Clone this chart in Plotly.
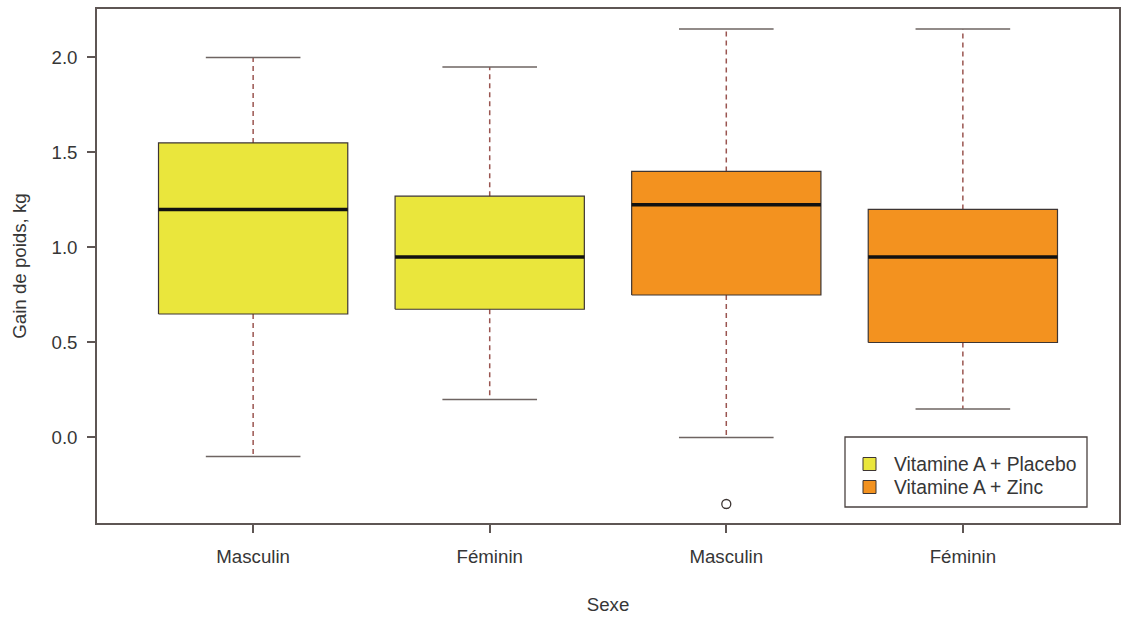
import plotly.graph_objects as go

# ---- data ----
sexes = ["Masculin", "Féminin", "Masculin", "Féminin"]
groups = ["Vitamine A + Placebo", "Vitamine A + Placebo", "Vitamine A + Zinc", "Vitamine A + Zinc"]
lower_whisker = [-0.10, 0.20, 0.00, 0.15]
q1 = [0.65, 0.675, 0.75, 0.50]
median = [1.20, 0.95, 1.225, 0.95]
q3 = [1.55, 1.27, 1.40, 1.20]
upper_whisker = [2.00, 1.95, 2.15, 2.15]
outlier_group = [3]          # 1-based box index
outlier_value = [-0.35]
y_ticks = [0.0, 0.5, 1.0, 1.5, 2.0]
y_ticklabels = ["0.0", "0.5", "1.0", "1.5", "2.0"]
legend_groups = ["Vitamine A + Placebo", "Vitamine A + Zinc"]

colors = {"Vitamine A + Placebo": "#EAE63C", "Vitamine A + Zinc": "#F3921F"}
FONT = "Liberation Sans, Arial, Helvetica, sans-serif"
TXT = "#363636"
FRAME = "#5e5654"
box_half = 0.4
cap_half = 0.2

# page geometry (body margin removed by post_script)
W, H = 1122, 617
ML, MR, MT, MB = 97, 3, 9, 94
PW, PH = W - ML - MR, H - MT - MB
OFF = 0


def px_x(x):  # page pixel -> paper x
    return (x - OFF - ML) / PW


def px_y(y):  # page pixel -> paper y
    return 1 - (y - OFF - MT) / PH


fig = go.Figure()
positions = list(range(1, len(sexes) + 1))

for i, pos in enumerate(positions):
    col = colors[groups[i]]
    for a, b in [(q3[i], upper_whisker[i]), (q1[i], lower_whisker[i])]:
        fig.add_trace(go.Scatter(x=[pos, pos], y=[a, b], mode="lines",
                                 line=dict(color="#9a5550", width=1.5, dash="5px,4px"),
                                 showlegend=False, hoverinfo="skip"))
    for v in [upper_whisker[i], lower_whisker[i]]:
        fig.add_trace(go.Scatter(x=[pos - cap_half, pos + cap_half], y=[v, v], mode="lines",
                                 line=dict(color="#6e6462", width=1.5),
                                 showlegend=False, hoverinfo="skip"))
    fig.add_trace(go.Scatter(
        x=[pos - box_half, pos + box_half, pos + box_half, pos - box_half, pos - box_half],
        y=[q1[i], q1[i], q3[i], q3[i], q1[i]],
        mode="lines", fill="toself", fillcolor=col,
        line=dict(color="#3d3533", width=1.2),
        showlegend=False, hoverinfo="skip"))
    fig.add_trace(go.Scatter(x=[pos - box_half, pos + box_half], y=[median[i], median[i]],
                             mode="lines", line=dict(color="#111111", width=3.5),
                             showlegend=False, hoverinfo="skip"))

fig.add_trace(go.Scatter(x=outlier_group, y=outlier_value, mode="markers",
                         marker=dict(symbol="circle-open", size=9, color="#3d3533",
                                     line=dict(width=1.3)),
                         showlegend=False, hoverinfo="skip"))

# custom legend (box, keys, labels) in paper coordinates
shapes = [dict(type="rect", xref="paper", yref="paper",
               x0=px_x(845), x1=px_x(1087), y0=px_y(437), y1=px_y(507),
               line=dict(color="#4a4240", width=1.3), fillcolor="white", layer="above")]
annotations = []
for k, g in enumerate(legend_groups):
    cy = 464 + 23 * k
    shapes.append(dict(type="rect", xref="paper", yref="paper",
                       x0=px_x(863), x1=px_x(876), y0=px_y(cy - 6.5), y1=px_y(cy + 6.5),
                       line=dict(color="#3d3533", width=1), fillcolor=colors[g], layer="above"))
    annotations.append(dict(xref="paper", yref="paper", x=px_x(892), y=px_y(cy),
                            xanchor="left", yanchor="middle", showarrow=False, text=g,
                            font=dict(size=19.3, color=TXT, family=FONT)))

fig.update_layout(
    width=W, height=H,
    margin=dict(l=ML, r=MR, t=MT, b=MB, autoexpand=False),
    plot_bgcolor="white", paper_bgcolor="white",
    font=dict(family=FONT, size=18.7, color=TXT),
    showlegend=False,
    shapes=shapes, annotations=annotations,
)
fig.update_xaxes(range=[0.34, 4.66], tickvals=positions, ticktext=sexes,
                 showgrid=False, zeroline=False, showline=True, mirror=True,
                 linecolor=FRAME, linewidth=1.5, ticks="outside", ticklen=8,
                 tickcolor=FRAME, tickwidth=1.5, ticklabelstandoff=8,
                 title=dict(text="Sexe", standoff=32, font=dict(size=18.7)))
fig.update_yaxes(range=[-0.45, 2.255], tickvals=y_ticks, ticktext=y_ticklabels,
                 showgrid=False, zeroline=False, showline=True, mirror=True,
                 linecolor=FRAME, linewidth=1.5, ticks="outside", ticklen=8,
                 tickcolor=FRAME, tickwidth=1.5, ticklabelstandoff=6,
                 title=dict(text="Gain de poids, kg", standoff=20, font=dict(size=18.7)))

fig.write_html("out.html", config={"displayModeBar": False},
               post_script="document.body.style.margin='0';document.body.style.overflow='hidden';")
